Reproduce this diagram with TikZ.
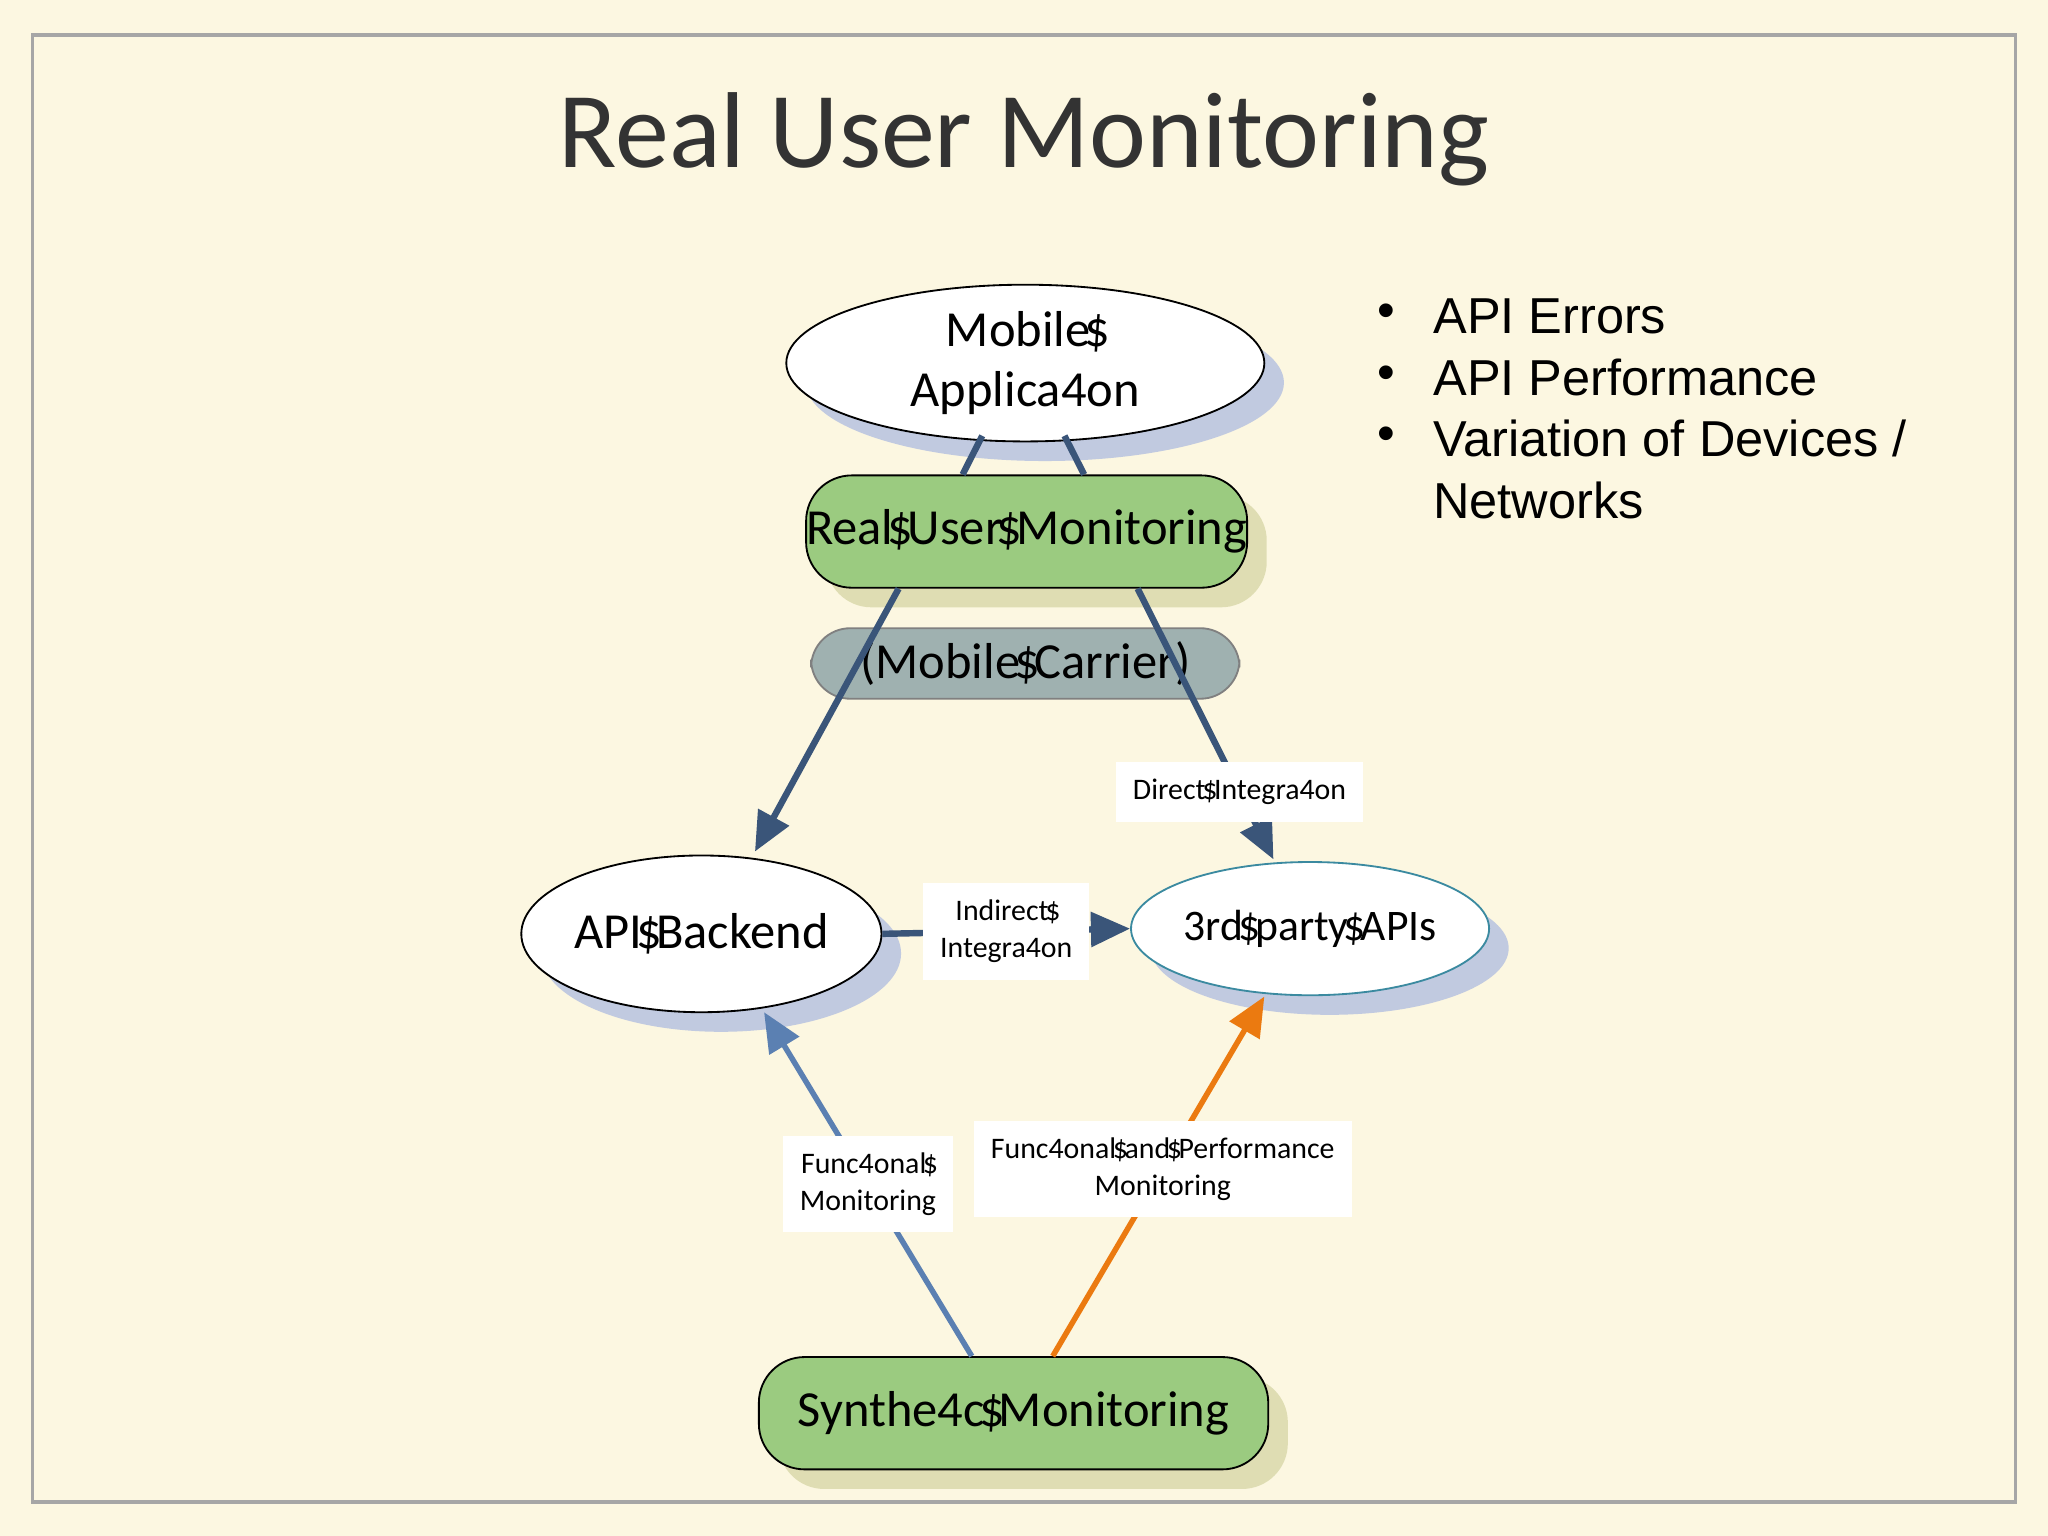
\documentclass[tikz,border=0pt]{standalone}
\usepackage{fontspec}
\setmainfont{Carlito}
\newfontfamily\bulletfont{Liberation Sans}
\usetikzlibrary{shapes.geometric,arrows.meta,positioning,shadows}

\definecolor{cream}{HTML}{FCF7E1}
\definecolor{leaf}{HTML}{9BCB80}
\definecolor{slate}{HTML}{8FA5A8}
\definecolor{navy}{HTML}{3A5579}
\definecolor{steel}{HTML}{5B80B2}
\definecolor{tangerine}{HTML}{EB7A10}
\definecolor{teal}{HTML}{3B8AA0}
\definecolor{haze}{HTML}{A9B7E0}
\definecolor{olive}{HTML}{D3D3A0}

\newcommand\dol{\makebox[0.28em][c]{\$}}

\tikzset{
  oval/.style={ellipse, draw=black, fill=white, font=\fontsize{11}{13}\selectfont, inner sep=0pt,
    general shadow={fill=haze, opacity=0.7, shadow xshift=1.5mm, shadow yshift=-1.5mm}},
  box/.style={rectangle, rounded corners=3.5mm, draw=black, fill=leaf, font=\fontsize{11}{13}\selectfont, inner sep=0pt,
    general shadow={fill=olive, opacity=0.7, shadow xshift=1.5mm, shadow yshift=-1.5mm}},
  tag/.style={fill=white, text=black, font=\fontsize{6.5}{8}\selectfont, align=center, inner sep=1.3mm},
  link/.style={navy, line width=1.4pt},
  tip/.style={-{Triangle[length=3mm,width=2.6mm]}}
}

\begin{document}
\begin{tikzpicture}

\fill[cream] (0,0) rectangle (15.68,11.76);
\draw[gray!70, line width=0.8pt] (0.25,0.26) rectangle (15.43,11.49);
\useasboundingbox (0,0) rectangle (15.68,11.76);

\node[font=\fontsize{23.5}{28}\selectfont, text=black!80] (title) at (7.84,10.69) {Real User Monitoring};

% nodes
\node[oval, minimum width=3.66cm, minimum height=1.2cm, align=center] (mobile) at (7.85,8.98) {Mobile\dol\\Applica4on};
\node[box, minimum width=3.26cm, minimum height=0.86cm] (rum) at (7.86,7.69) {Real\dol User\dol Monitoring};
\node[rectangle, rounded corners=3mm, draw=gray, fill=slate, fill opacity=0.85, text opacity=1, inner sep=0pt,
      minimum width=3.28cm, minimum height=0.54cm, font=\fontsize{11}{13}\selectfont] (carrier) at (7.85,6.68) {(Mobile\dol Carrier)};
\node[oval, minimum width=2.52cm, minimum height=1.2cm] (backend) at (5.37,4.61) {API\dol Backend};
\node[oval, draw=teal, minimum width=2.14cm, minimum height=1.02cm, font=\fontsize{9.5}{11}\selectfont] (third) at (10.03,4.65) {3rd\dol party\dol APIs};
\node[box, minimum width=3.9cm, minimum height=0.86cm] (synth) at (7.76,0.94) {Synthe4c\dol Monitoring};

% connectors
\draw[link] ([xshift=-3.3mm,yshift=0.5mm]mobile.south) -- ([xshift=-0.49cm]rum.north);
\draw[link] ([xshift=3.0mm,yshift=0.5mm]mobile.south) -- ([xshift=0.44cm]rum.north);
\coordinate (bTop) at (5.78,5.24);
\coordinate (tTop) at (9.75,5.18);
\draw[link, tip] ([xshift=-0.98cm]rum.south) -- (bTop);
\draw[link, tip] ([xshift=0.85cm]rum.south) -- node[tag, pos=0.75] {Direct\dol Integra4on} (tTop);
\draw[link, tip] (backend.east) -- node[tag] {Indirect\dol\\Integra4on} (third.west);
\draw[steel, line width=1.2pt, tip] ([xshift=-0.32cm]synth.north) -- node[tag, pos=0.5] {Func4onal\dol\\Monitoring} (5.85,4.01);
\draw[tangerine, line width=1.2pt, tip] ([xshift=0.3cm]synth.north) -- node[tag, pos=0.52] {Func4onal\dol and\dol Performance\\Monitoring} (9.68,4.13);

% bullets
\begin{scope}[font=\bulletfont\fontsize{11}{13}\selectfont, anchor=west]
\foreach \y/\txt in {9.34/API Errors, 8.87/API Performance, 8.40/{Variation of Devices /}} {
  \node at (10.42,\y) {\textbullet};
  \node at (10.85,\y) {\txt};
}
\node at (10.85,7.93) {Networks};
\end{scope}

\end{tikzpicture}
\end{document}
